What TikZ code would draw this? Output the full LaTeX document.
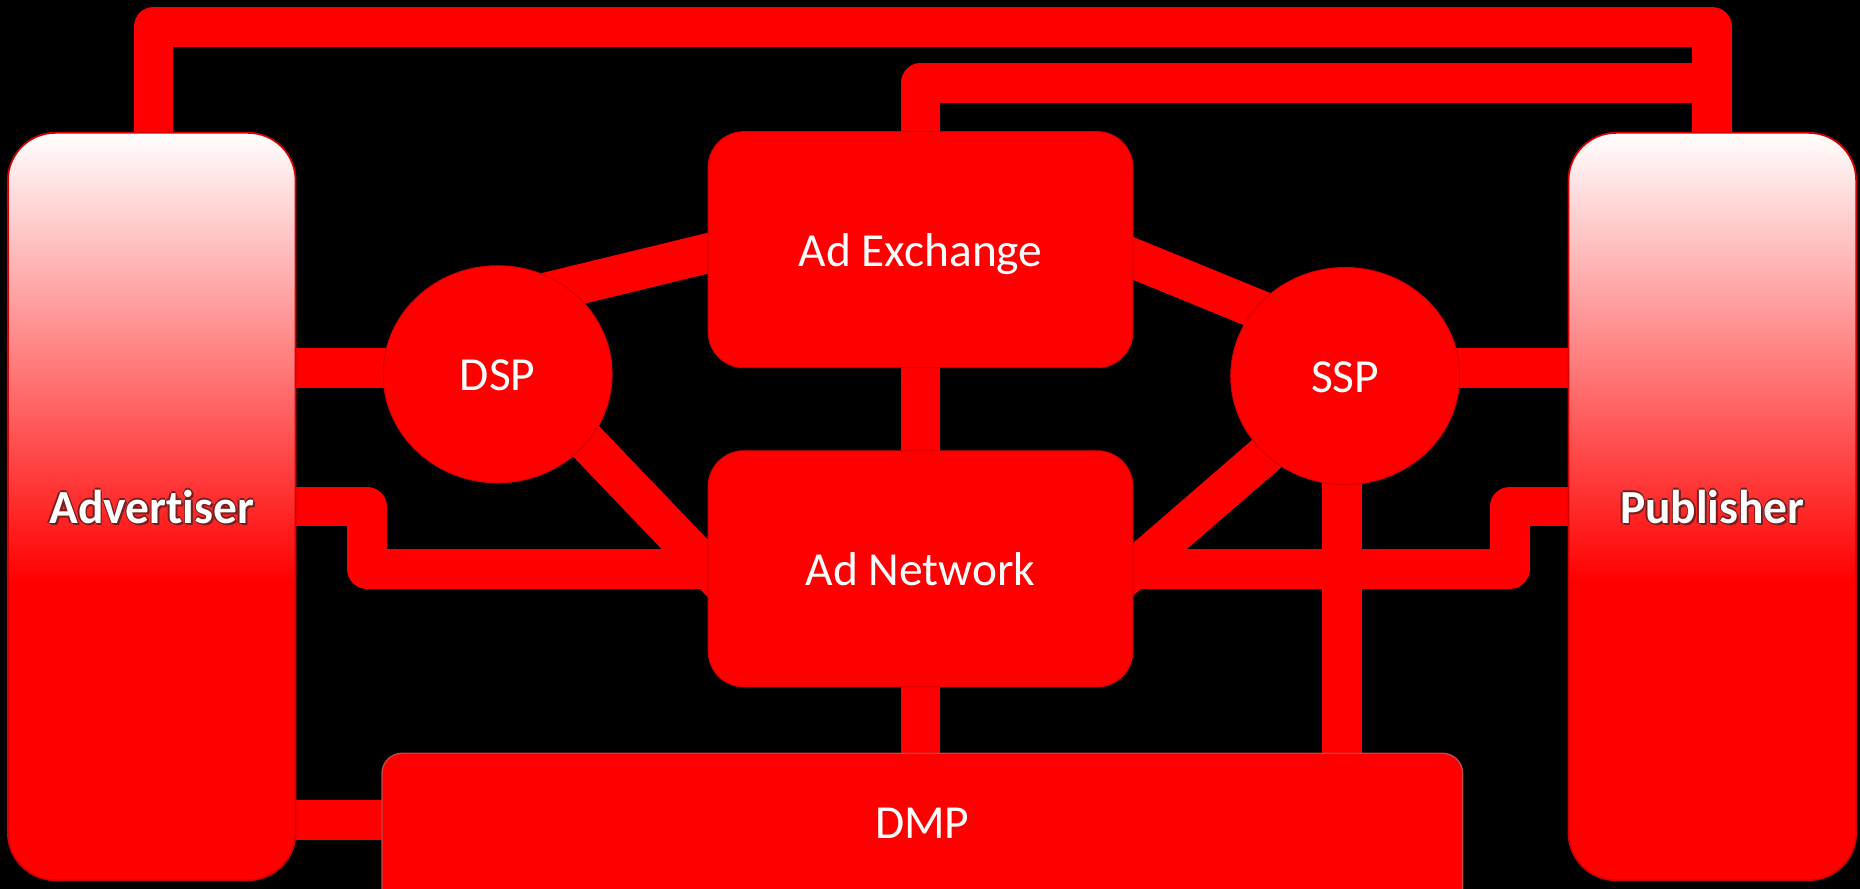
\documentclass[tikz,border=0pt]{standalone}
\usepackage{fontspec}
\setmainfont{Carlito}[Ligatures=NoCommon]
\usetikzlibrary{calc,shapes.geometric}
\pgfdeclarelayer{bg}
\pgfdeclarelayer{conn}
\pgfsetlayers{bg,conn,main}
\pgfdeclareverticalshading{sideshade}{100bp}{color(0bp)=(red); color(45bp)=(red); color(75bp)=(white); color(100bp)=(white)}
\definecolor{glowc}{RGB}{120,30,30}
\definecolor{edgec}{RGB}{215,0,0}
\definecolor{dmpedge}{RGB}{190,70,70}
\newcommand\glowtxt[1]{%
  \leavevmode
  \rlap{\hspace{1.2pt}\textcolor{glowc}{#1}}%
  \rlap{\hspace{-1.2pt}\textcolor{glowc}{#1}}%
  \rlap{\raisebox{1.2pt}{\textcolor{glowc}{#1}}}%
  \rlap{\raisebox{-1.2pt}{\textcolor{glowc}{#1}}}%
  \rlap{\hspace{1.5pt}\raisebox{-1.8pt}{\textcolor{glowc}{#1}}}%
  \textcolor{white}{#1}}
\begin{document}
\begin{tikzpicture}[x=1pt,y=-1pt,
  every node/.style={inner sep=0pt, outer sep=0pt, text=white, font=\fontsize{40}{48}\selectfont},
  box/.style={rectangle, rounded corners=30pt, fill=red, draw=edgec, line width=0.8pt,
    minimum width=358pt, minimum height=199pt, text height=28pt, text depth=0pt},
  oval/.style={ellipse, fill=red, draw=edgec, line width=0.8pt,
    minimum width=193pt, minimum height=183pt, text height=28pt, text depth=0pt},
  side/.style={rectangle, rounded corners=40pt, shade, shading=sideshade, draw=edgec, line width=1.5pt,
    minimum width=242.5pt, minimum height=630pt, text height=28pt, text depth=0pt,
    font=\fontsize{40}{48}\selectfont\bfseries},
  dmpbox/.style={rectangle, minimum width=911pt, minimum height=112.5pt, text height=32pt, text depth=0pt},
  conn/.style={draw=red, line width=33.5pt, line join=round, line cap=butt},
]
\useasboundingbox (0,0) rectangle (1568,749.43);
\begin{pgfonlayer}{bg}
  \fill[black] (0,0) rectangle (1568,749.43);
\end{pgfonlayer}

% nodes
\node[side] (adv) at (127.9,427) {\glowtxt{Advertiser}};
\node[side] (pub) at (1443.5,427) {\glowtxt{Publisher}};
\node[box] (adex) at (776,210.5) {Ad Exchange};
\node[box] (adnet) at (776,479.5) {Ad Network};
\node[oval] (dsp) at (419.5,315.5) {DSP};
\node[oval] (ssp) at (1134,317) {SSP};
\node[dmpbox] (dmp) at (777.5,691.25) {DMP};

\coordinate (ta) at (0,22.5);
\coordinate (tb) at (0,70);
\coordinate (d1) at ($(dsp.center)+(0,-5)$);
\coordinate (s2) at ($(ssp.center)+(0,-7)$);
\coordinate (s3) at ($(ssp.center)+(-2.5,0)$);
\coordinate (a1) at ([xshift=1.5pt]adv.north);

\begin{pgfonlayer}{conn}
  % top loops
  \draw[conn] ([yshift=-6pt]a1) -- (a1 |- ta) -- (pub.north |- ta) -- ([yshift=-6pt]pub.north);
  \draw[conn] ([yshift=-6pt]adex.north) -- (adex.north |- tb) -- (pub.north |- tb);
  % straight bars
  \draw[conn] (d1) -- (d1 -| adv.east);
  \draw[conn] (s2) -- (s2 -| pub.west);
  \draw[conn] (adex) -- (adnet);
  \draw[conn] (adnet) -- (adnet |- dmp.center);
  \draw[conn] (s3) -- (s3 |- dmp.center);
  \draw[conn] (adv.east |- dmp.west) -- (dmp.center);
  % jogged bars
  \draw[conn] (adv.east) -- ++(60,0) |- (adnet.west);
  \draw[conn] (pub.west) -- ++(-49.5,0) |- (adnet.east);
  % diagonals
  \draw[conn] ($(dsp.center)+(0,-59)$) -- ($(adex.west)+(20,-2)$);
  \draw[conn] ($(dsp.center)+(20.5,0)$) -- ($(adnet.west)+(20,21)$);
  \draw[conn] ($(adex.east)+(-20,-1)$) -- ($(ssp.center)+(0,-26)$);
  \draw[conn] ($(ssp.center)+(0,8)$) -- ($(adnet.east)+(-20,18)$);
  % DMP body (square bottom, runs off the page edge)
  \path[fill=red, draw=dmpedge, line width=1.2pt, rounded corners=17pt]
    ($(dmp.south west)+(0,20)$) -- (dmp.north west) -- (dmp.north east) -- ($(dmp.south east)+(0,20)$);
\end{pgfonlayer}
\end{tikzpicture}
\end{document}
